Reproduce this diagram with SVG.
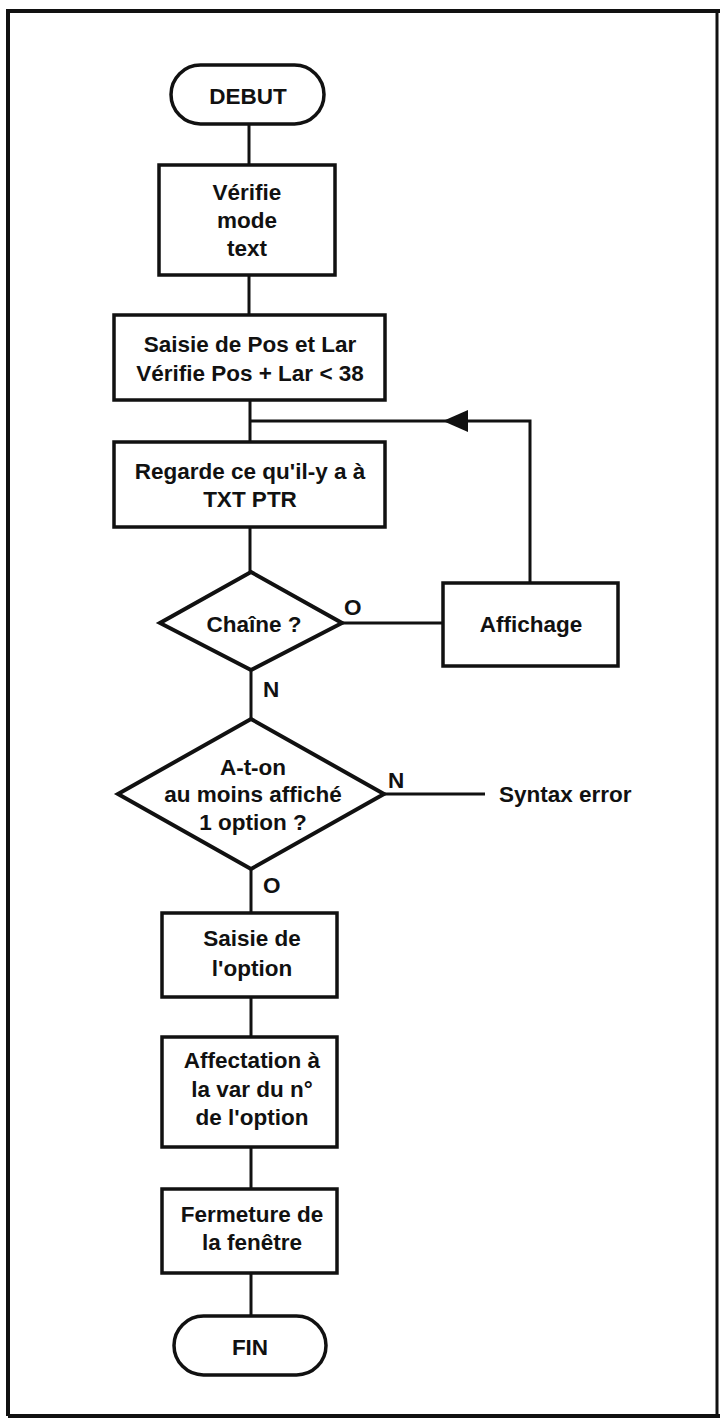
<svg xmlns="http://www.w3.org/2000/svg" width="720" height="1419" viewBox="0 0 720 1419">
<style>
.bg{fill:#ffffff}
.frame{fill:none;stroke:#111;stroke-width:4}
.box{fill:#fff;stroke:#111;stroke-width:3.5}
.dia{fill:#fff;stroke:#111;stroke-width:4}
.ln{fill:none;stroke:#111;stroke-width:3}
.ah{fill:#111;stroke:none}
text{font-family:"Liberation Sans",Arial,Helvetica,sans-serif;font-weight:bold;font-size:22.5px;fill:#111}
.c{text-anchor:middle}
</style>
<rect class="bg" x="0" y="0" width="720" height="1419"/>
<path class="frame" d="M8,1416 V11 H720"/>
<path class="frame" d="M8,1416 H720"/>
<line x1="717" y1="11" x2="717" y2="1416" stroke="#111" stroke-width="3"/>

<g id="connectors">
<line class="ln" x1="249" y1="124" x2="249" y2="165"/>
<line class="ln" x1="249" y1="275" x2="249" y2="315"/>
<line class="ln" x1="250" y1="400" x2="250" y2="442"/>
<path class="ln" d="M530,583 V421 H250"/>
<polygon class="ah" points="443,421 468,410 468,432"/>
<line class="ln" x1="250" y1="527" x2="250" y2="572"/>
<line class="ln" x1="342" y1="623" x2="443" y2="623"/>
<line class="ln" x1="251" y1="670" x2="251" y2="719"/>
<line class="ln" x1="384" y1="794" x2="485" y2="794"/>
<line class="ln" x1="251" y1="869" x2="251" y2="913"/>
<line class="ln" x1="251" y1="997" x2="251" y2="1037"/>
<line class="ln" x1="251" y1="1147" x2="251" y2="1189"/>
<line class="ln" x1="251" y1="1273" x2="251" y2="1316"/>
<text x="344" y="615">O</text>
<text x="263" y="697">N</text>
<text x="388" y="788">N</text>
<text x="263" y="893">O</text>
</g>

<g id="debut">
<rect class="box" x="171" y="65" width="153" height="59" rx="29.5" ry="29.5"/>
<text class="c" x="248" y="104">DEBUT</text>
</g>

<g id="verifie-mode">
<rect class="box" x="159" y="165" width="176" height="110"/>
<text class="c" x="247" y="200">Vérifie</text>
<text class="c" x="247" y="228">mode</text>
<text class="c" x="247" y="256">text</text>
</g>

<g id="saisie-pos">
<rect class="box" x="114" y="315" width="271" height="85"/>
<text class="c" x="250" y="352">Saisie de Pos et Lar</text>
<text class="c" x="250" y="381">Vérifie Pos + Lar &lt; 38</text>
</g>

<g id="regarde">
<rect class="box" x="114" y="442" width="271" height="85"/>
<text class="c" x="250" y="479">Regarde ce qu'il-y a à</text>
<text class="c" x="250" y="507">TXT PTR</text>
</g>

<g id="chaine">
<polygon class="dia" points="251,572 342,623 251,670 160,623"/>
<text class="c" x="254" y="632">Chaîne ?</text>
</g>

<g id="affichage">
<rect class="box" x="443" y="583" width="175" height="83"/>
<text class="c" x="531" y="632">Affichage</text>
</g>

<g id="aton">
<polygon class="dia" points="251,719 384,794 251,869 118,794"/>
<text class="c" x="253" y="775">A-t-on</text>
<text class="c" x="253" y="802">au moins affiché</text>
<text class="c" x="253" y="830">1 option ?</text>
</g>

<g id="syntax-error">
<text x="499" y="802">Syntax error</text>
</g>

<g id="saisie-option">
<rect class="box" x="162" y="913" width="175" height="84"/>
<text class="c" x="252" y="946">Saisie de</text>
<text class="c" x="252" y="976">l'option</text>
</g>

<g id="affectation">
<rect class="box" x="162" y="1037" width="175" height="110"/>
<text class="c" x="252" y="1068">Affectation à</text>
<text class="c" x="252" y="1097">la var du n°</text>
<text class="c" x="252" y="1125">de l'option</text>
</g>

<g id="fermeture">
<rect class="box" x="162" y="1189" width="175" height="84"/>
<text class="c" x="252" y="1222">Fermeture de</text>
<text class="c" x="252" y="1250">la fenêtre</text>
</g>

<g id="fin">
<rect class="box" x="174" y="1316" width="152" height="59" rx="29.5" ry="29.5"/>
<text class="c" x="250" y="1355">FIN</text>
</g>
</svg>
